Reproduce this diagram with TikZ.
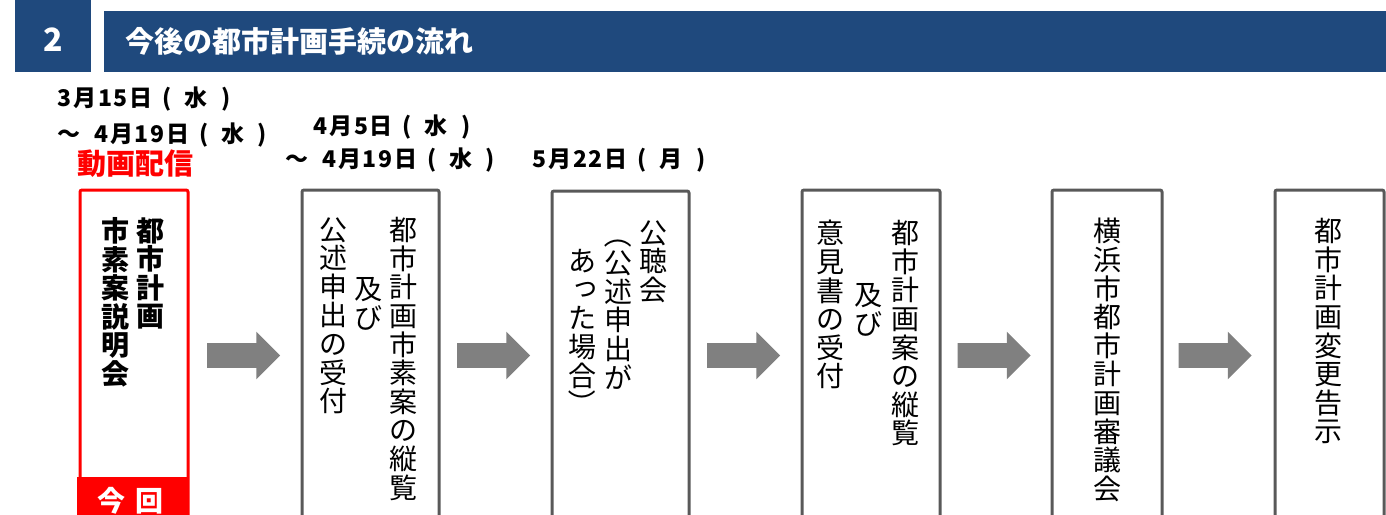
\documentclass[tikz,border=0pt]{standalone}
\usepackage{fontspec}
\usepackage{graphicx}
\setmainfont{Noto Sans CJK JP}
\newfontfamily\datefont[LetterSpace=8]{Noto Sans CJK JP}
\usetikzlibrary{shapes.arrows}
\definecolor{navy}{RGB}{31,73,125}
\definecolor{boxgray}{RGB}{89,89,89}
\definecolor{arrowgray}{RGB}{128,128,128}
\newcommand\dayof[1]{\hspace{0.43em}(\hspace{0.54em}#1\hspace{0.6em})}
\newcommand\smalltsu{\raisebox{0.12em}{\hspace{0.24em}っ}}
\newcommand\vopen{\rotatebox[origin=c]{-90}{（}}
\newcommand\vclose{\rotatebox[origin=c]{-90}{）}}
\begin{document}
\begin{tikzpicture}[x=0.5pt,y=-0.5pt,
  every node/.style={inner sep=0pt},
  stepbox/.style={draw=boxgray,line width=1.5pt,rounded corners=1pt,anchor=north west,minimum height=180pt},
  vcol/.style={anchor=north,align=center,font=\fontsize{14pt}{14.3pt}\selectfont,execute at begin node={\vphantom{都}}},
  datelabel/.style={anchor=west,text height=0.88em,text depth=0.12em,font=\datefont\bfseries\fontsize{11.5pt}{14pt}\selectfont},
  flow/.style={single arrow,fill=arrowgray,inner sep=6pt,minimum height=36.5pt,single arrow head extend=5.75pt,single arrow head indent=0pt}]
\useasboundingbox (0,0) rectangle (1386,514);
\clip (0,0) rectangle (1386,514);
%header
\node[fill=navy,anchor=north west,minimum width=38pt,minimum height=36pt] (numbox) at (15,0) {};
\node[text=white,font=\bfseries\fontsize{16pt}{18pt}\selectfont] (num) at (53,40) {2};
\node[fill=navy,anchor=north west,minimum width=641pt,minimum height=30.5pt] (titlebar) at (104,11) {};
\node[datelabel,text=white,font=\bfseries\fontsize{14.5pt}{17pt}\selectfont] (title) at (125,45) {今後の都市計画手続の流れ};
%dates
\node[datelabel] (d1a) at (57,99) {3月15日\dayof{水}};
\node[datelabel] (d1b) at (57,135) {～\hspace{0.6em}4月19日\dayof{水}};
\node[datelabel,text=red,font=\bfseries\fontsize{14.5pt}{17pt}\selectfont] (live) at (77,167) {動画配信};
\node[datelabel] (d2a) at (313,127) {4月5日\dayof{水}};
\node[datelabel] (d2b) at (285,160) {～\hspace{0.6em}4月19日\dayof{水}};
\node[datelabel] (d3) at (532,160) {5月22日\dayof{月}};
%boxes
\node[stepbox,draw=red,minimum width=54pt] (b1) at (78.5,188.5) {};
\fill[red] (77,477) rectangle (188,540);
\node[datelabel,text=white,font=\bfseries\fontsize{14pt}{17pt}\selectfont] (now) at (97,504) {今\hspace{5pt}回};
\node[stepbox,minimum width=68.5pt] (b2) at (300.5,188.5) {};
\node[stepbox,minimum width=68.5pt] (b3) at (550.5,189.5) {};
\node[stepbox,minimum width=69pt] (b4) at (800.5,188.5) {};
\node[stepbox,minimum width=55pt] (b5) at (1050.5,188.5) {};
\node[stepbox,minimum width=54.5pt] (b6) at (1273.5,188.5) {};
%arrows
\node[flow] (a1) at (237.5,355.5) {};
\node[flow] (a2) at (487.5,355.5) {};
\node[flow] (a3) at (737.5,355.5) {};
\node[flow] (a4) at (988,355.5) {};
\node[flow] (a5) at (1209,355.5) {};
%texts
\node[vcol,font=\bfseries\fontsize{14pt}{14.3pt}\selectfont] (t1a) at (150,217) {都\\市\\計\\画};
\node[vcol,font=\bfseries\fontsize{14pt}{14.3pt}\selectfont] (t1b) at (115,217) {市\\素\\案\\説\\明\\会};
\node[vcol] (t2a) at (403,217) {都\\市\\計\\画\\市\\素\\案\\の\\縦\\覧};
\node[vcol] (t2b) at (368,277) {及\\び};
\node[vcol] (t2c) at (333,217) {公\\述\\申\\出\\の\\受\\付};
\node[vcol] (t3a) at (653,220) {公\\聴\\会};
\node[vcol] (t3b) at (618,220) {\vopen\\公\\述\\申\\出\\が};
\node[vcol] (t3c) at (582,249) {あ\\\smalltsu\\た\\場\\合\\\vclose};
\node[vcol] (t4a) at (905,220) {都\\市\\計\\画\\案\\の\\縦\\覧};
\node[vcol] (t4b) at (868,283) {及\\び};
\node[vcol] (t4c) at (830,220) {意\\見\\書\\の\\受\\付};
\node[vcol] (t5) at (1107,218) {横\\浜\\市\\都\\市\\計\\画\\審\\議\\会};
\node[vcol] (t6) at (1328,218) {都\\市\\計\\画\\変\\更\\告\\示};
\end{tikzpicture}
\end{document}
